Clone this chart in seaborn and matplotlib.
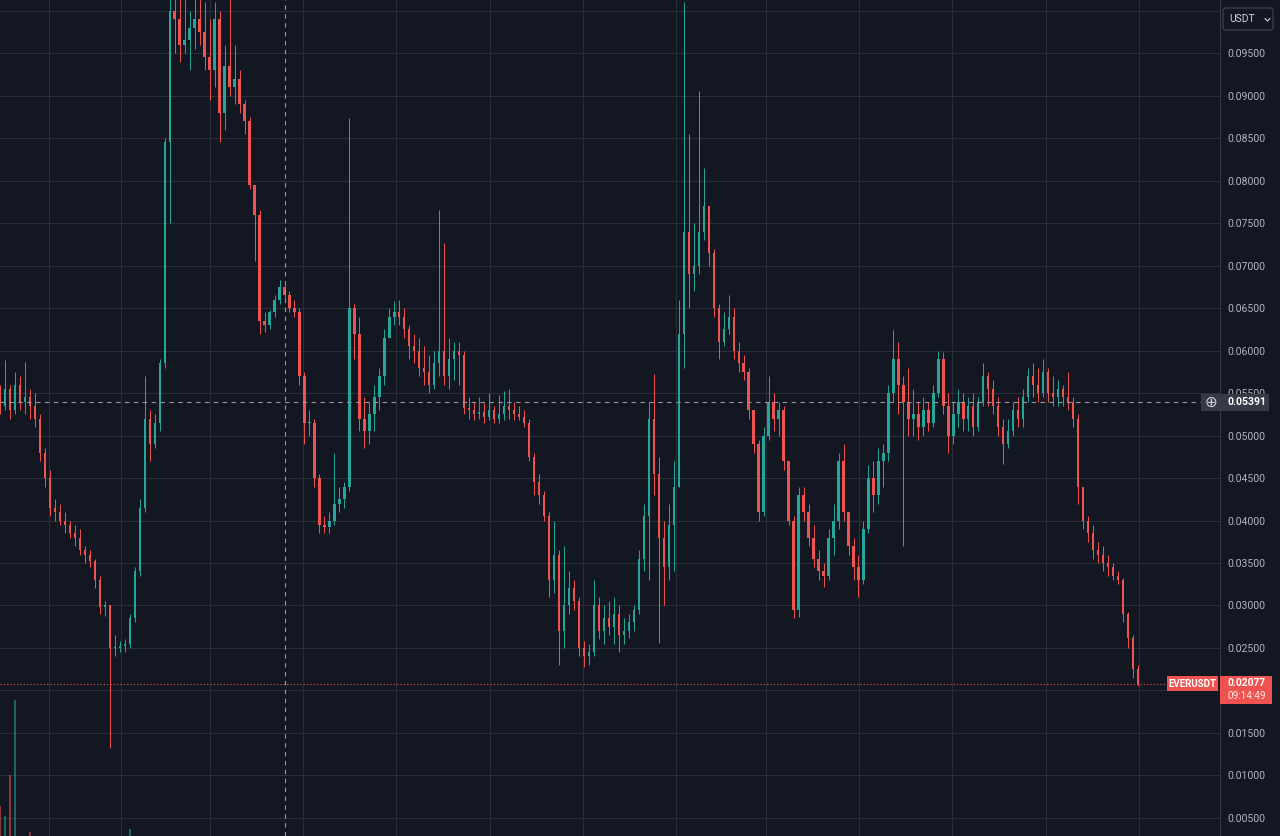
import numpy as np
import pandas as pd
import matplotlib
matplotlib.use("Agg")
import matplotlib.pyplot as plt
import seaborn as sns
from matplotlib.patches import Rectangle, FancyBboxPatch

# ---------------- data (EVERUSDT) ----------------
first_open = 0.0545
closes = [
    .0535, .0555, .0530, .0560, .0540, .0545, .0535, .0520, .0480, .0450,
    .0415, .0410, .0400, .0395, .0385, .0380, .0365, .0360, .0352, .0330,
    .0298, .0300, .0250, .0250, .0252, .0255, .0285, .0340, .0415, .0520,
    .0490, .0515, .0585, .0845, .1000, .0990, .0960, .0965, .0980, .0990,
    .0975, .0945, .0930, .0990, .0880, .0935, .0910, .0920, .0890, .0870,
    .0795, .0760, .0635, .0630, .0645, .0660, .0675, .0665, .0650, .0645,
    .0570, .0515, .0515, .0450, .0395, .0392, .0400, .0420, .0425, .0440,
    .0650, .0620, .0520, .0505, .0525, .0545, .0570, .0615, .0640, .0645,
    .0640, .0625, .0605, .0600, .0580, .0575, .0560, .0585, .0600, .0570,
    .0590, .0600, .0595, .0532, .0530, .0525, .0528, .0522, .0530, .0520,
    .0525, .0535, .0530, .0525, .0522, .0515, .0475, .0445, .0430, .0405,
    .0330, .0360, .0270, .0300, .0320, .0305, .0250, .0240, .0245, .0300,
    .0270, .0285, .0275, .0290, .0265, .0270, .0280, .0295, .0355, .0405,
    .0520, .0455, .0380, .0345, .0395, .0440, .0620, .0740, .0690, .0700,
    .0740, .0770, .0715, .0650, .0610, .0625, .0640, .0600, .0585, .0575,
    .0530, .0490, .0410, .0500, .0540, .0520, .0530, .0470, .0400, .0295,
    .0430, .0410, .0380, .0355, .0340, .0335, .0380, .0400, .0470, .0410,
    .0370, .0345, .0330, .0390, .0450, .0430, .0470, .0480, .0550, .0590,
    .0560, .0540, .0520, .0525, .0510, .0530, .0515, .0550, .0590, .0535,
    .0500, .0525, .0540, .0520, .0535, .0510, .0540, .0570, .0555, .0535,
    .0510, .0490, .0505, .0530, .0520, .0545, .0570, .0560, .0550, .0575,
    .0550, .0545, .0555, .0545, .0540, .0520, .0440, .0400, .0385, .0365,
    .0360, .0350, .0345, .0335, .0330, .0290, .0262, .0225, .02077,
]
highs = [
    .0560, .0589, .0560, .0575, .0570, .0586, .0555, .0550, .0525, .0485,
    .0460, .0425, .0420, .0410, .0400, .0395, .0390, .0370, .0365, .0355,
    .0335, .0305, .0300, .0265, .0258, .0260, .0290, .0345, .0425, .0570,
    .0530, .0525, .0590, .0850, .1050, .1050, .1040, .1020, .1000, .1030,
    .1020, .1010, .0990, .1010, .1000, .0960, .1050, .0960, .0930, .0895,
    .0875, .0790, .0765, .0645, .0648, .0665, .0683, .0680, .0670, .0660,
    .0650, .0575, .0530, .0520, .0455, .0405, .0410, .0480, .0440, .0445,
    .0873, .0655, .0640, .0545, .0540, .0560, .0580, .0625, .0650, .0658,
    .0660, .0650, .0630, .0620, .0615, .0605, .0595, .0600, .0765, .0727,
    .0615, .0610, .0610, .0600, .0545, .0540, .0545, .0538, .0550, .0535,
    .0548, .0552, .0555, .0540, .0535, .0530, .0520, .0480, .0455, .0435,
    .0410, .0400, .0365, .0370, .0340, .0330, .0310, .0258, .0255, .0330,
    .0310, .0300, .0305, .0310, .0300, .0285, .0290, .0300, .0365, .0420,
    .0540, .0572, .0475, .0400, .0420, .0470, .0660, .1010, .0855, .0750,
    .0905, .0815, .0770, .0720, .0655, .0645, .0665, .0650, .0610, .0595,
    .0580, .0530, .0495, .0510, .0570, .0550, .0540, .0535, .0470, .0405,
    .0440, .0440, .0420, .0395, .0365, .0350, .0390, .0420, .0480, .0490,
    .0410, .0380, .0360, .0400, .0465, .0470, .0485, .0490, .0560, .0624,
    .0610, .0570, .0580, .0555, .0540, .0545, .0540, .0560, .0600, .0598,
    .0550, .0540, .0555, .0550, .0545, .0550, .0545, .0585, .0575, .0565,
    .0545, .0520, .0520, .0540, .0545, .0555, .0580, .0585, .0580, .0590,
    .0580, .0570, .0565, .0560, .0575, .0545, .0525, .0440, .0405, .0395,
    .0375, .0370, .0360, .0350, .0340, .0332, .0292, .0265, .0230,
]
lows = [
    .0525, .0530, .0520, .0525, .0530, .0525, .0520, .0510, .0470, .0440,
    .0405, .0400, .0395, .0385, .0380, .0370, .0360, .0350, .0345, .0320,
    .0290, .0288, .0132, .0240, .0245, .0245, .0250, .0280, .0335, .0410,
    .0470, .0485, .0505, .0580, .0750, .0950, .0940, .0950, .0930, .0955,
    .0960, .0930, .0895, .0910, .0845, .0860, .0900, .0890, .0880, .0855,
    .0790, .0705, .0620, .0622, .0625, .0640, .0655, .0660, .0645, .0640,
    .0560, .0490, .0500, .0440, .0385, .0385, .0385, .0395, .0410, .0415,
    .0435, .0590, .0505, .0485, .0490, .0505, .0530, .0560, .0615, .0630,
    .0630, .0615, .0590, .0585, .0570, .0560, .0550, .0555, .0570, .0560,
    .0555, .0565, .0560, .0525, .0520, .0518, .0520, .0515, .0518, .0515,
    .0515, .0518, .0520, .0518, .0518, .0510, .0470, .0430, .0420, .0400,
    .0310, .0315, .0230, .0250, .0290, .0295, .0240, .0228, .0230, .0240,
    .0260, .0255, .0265, .0255, .0245, .0255, .0262, .0270, .0290, .0340,
    .0330, .0430, .0256, .0300, .0330, .0340, .0440, .0580, .0650, .0670,
    .0690, .0730, .0700, .0640, .0590, .0605, .0620, .0590, .0575, .0565,
    .0520, .0480, .0400, .0405, .0495, .0505, .0500, .0460, .0395, .0285,
    .0287, .0400, .0370, .0345, .0330, .0322, .0330, .0360, .0390, .0400,
    .0360, .0330, .0310, .0325, .0385, .0410, .0420, .0440, .0470, .0540,
    .0525, .0370, .0500, .0500, .0495, .0500, .0505, .0510, .0545, .0525,
    .0480, .0490, .0510, .0505, .0505, .0500, .0505, .0535, .0535, .0525,
    .0500, .0467, .0485, .0500, .0510, .0510, .0540, .0545, .0540, .0545,
    .0540, .0535, .0535, .0535, .0530, .0510, .0420, .0390, .0375, .0355,
    .0350, .0340, .0335, .0330, .0325, .0280, .0250, .0215, .0205,
]
opens = [first_open] + closes[:-1]

vol_index = [0, 1, 2, 3, 6, 26]
vol_values = [22, 15, 45, 100, 3, 5]

tick_values = [0.005, 0.010, 0.015, 0.020, 0.025, 0.030, 0.035, 0.040, 0.045, 0.050,
               0.055, 0.060, 0.065, 0.070, 0.075, 0.080, 0.085, 0.090, 0.095, 0.100]
hidden_ticks = [0.020, 0.100]   # covered by the price tag / currency button
symbol = "EVERUSDT"
currency = "USDT"
cross_price = 0.05391
cross_index = 57
countdown = "09:14:49"

# ---------------- style ----------------
BG = "#131722"
GRID = "#2a2e39"
UP = "#26a69a"
DOWN = "#ef5350"
TXT = "#b2b5be"

sns.set_theme(style="dark", rc={"axes.facecolor": BG, "figure.facecolor": BG,
                                "savefig.facecolor": BG})
plt.rcParams["font.family"] = ["Roboto", "DejaVu Sans"]

W, H = 1280, 836
Y_BOT, Y_TOP = 0.00288, 0.10124
PLOT_W = 1220

fig = plt.figure(figsize=(W / 100, H / 100), dpi=100)
ax = fig.add_axes([0, 0, PLOT_W / W, 1])
ax.set_facecolor(BG)

df = pd.DataFrame({"open": opens, "high": highs, "low": lows, "close": closes})
df["i"] = np.arange(len(df))
n = len(df)
px_per = 1138 / (n - 1)

is_up = df["close"] >= df["open"]
colors = np.where(is_up, UP, DOWN)

# volume (own scale, bottom)
ax2 = ax.twinx()
vcol = [UP if is_up.iloc[k] else DOWN for k in vol_index]
ax2.bar(vol_index, vol_values, width=0.45, color=vcol, alpha=0.55, linewidth=0)
ax2.set_ylim(0, max(vol_values) * H / 136)
ax2.axis("off")

# candles
ax.vlines(df["i"], df["low"], df["high"], colors=colors, linewidth=0.7, zorder=3)
body_bottom = df[["open", "close"]].min(axis=1)
body_h = (df["close"] - df["open"]).abs().clip(lower=0.00012)
ax.bar(df["i"], body_h, bottom=body_bottom, width=0.48, color=colors,
       linewidth=0, zorder=3)

ax.set_ylim(Y_BOT, Y_TOP)
ax.set_xlim(0, PLOT_W / px_per)
ax2.set_xlim(0, PLOT_W / px_per)

# grid
grid_px = [49, 121, 210, 303, 396, 490, 583, 676, 766, 859, 952, 1046, 1139]
ax.set_xticks([g / px_per for g in grid_px])
ax.set_yticks(tick_values)
ax.set_yticklabels(["" if any(abs(v - h) < 1e-9 for h in hidden_ticks) else f"{v:.5f}"
                    for v in tick_values])
ax.yaxis.tick_right()
ax.tick_params(axis="y", length=0, pad=5, labelsize=7.6, labelcolor=TXT,
               left=False, labelleft=False, right=False, labelright=True)
ax.tick_params(axis="x", length=0, labelbottom=False)
ax.grid(True, which="major", color=GRID, linewidth=0.75)
ax.set_axisbelow(True)
for s in ["top", "left", "bottom"]:
    ax.spines[s].set_visible(False)
ax.spines["right"].set_color("#363a45")
ax.spines["right"].set_linewidth(0.8)

# crosshair and last-price line
ax.axhline(cross_price, color="#9598a1", lw=0.8, ls=(0, (4, 4)), zorder=4)
ax.axvline(cross_index, color="#9598a1", lw=0.8, ls=(0, (4, 4)), zorder=4)
ax.axhline(closes[-1], color=DOWN, lw=0.8, ls=(0, (1, 2)), zorder=4)

# ---------------- overlay labels (pixel coords) ----------------
ov = fig.add_axes([0, 0, 1, 1], zorder=10)
ov.set_xlim(0, W)
ov.set_ylim(H, 0)
ov.axis("off")
ov.patch.set_alpha(0)


def py(v):
    return (Y_TOP - v) / (Y_TOP - Y_BOT) * H


yc = py(cross_price)
ov.add_patch(Rectangle((1201, yc - 8.5), 68, 17, fc="#363a45", ec="none"))
ov.text(1211, yc + 0.5, "\u2295", color="#d1d4dc", fontsize=11, ha="center",
        va="center", family=["DejaVu Sans"])
ov.text(1227, yc, f"{cross_price:.5f}", color="white", fontsize=7.6,
        fontweight="bold", va="center", ha="left")

yl = py(closes[-1])
ov.add_patch(Rectangle((1167, yl - 7.5), 51, 15, fc=DOWN, ec="none"))
ov.text(1192.5, yl, symbol, color="white", fontsize=7, fontweight="bold",
        ha="center", va="center")
ov.add_patch(Rectangle((1220, yl - 8), 52, 28, fc=DOWN, ec="none"))
ov.text(1227, yl - 0.5, f"{closes[-1]:.5f}", color="white", fontsize=7.4,
        fontweight="bold", ha="left", va="center")
ov.text(1227, yl + 12.5, countdown, color="#ffe4e4", fontsize=7.2,
        ha="left", va="center")

ov.add_patch(FancyBboxPatch((1223, 8), 50, 22, boxstyle="round,pad=0,rounding_size=3",
                            ec="#434651", fc=BG, lw=0.8))
ov.text(1229, 19.5, currency, color="#d1d4dc", fontsize=7.4, ha="left", va="center")
ov.plot([1265, 1267.5, 1270], [18.5, 21, 18.5], color="#d1d4dc", lw=0.8)

fig.savefig("out.png", dpi=100, facecolor=BG)
